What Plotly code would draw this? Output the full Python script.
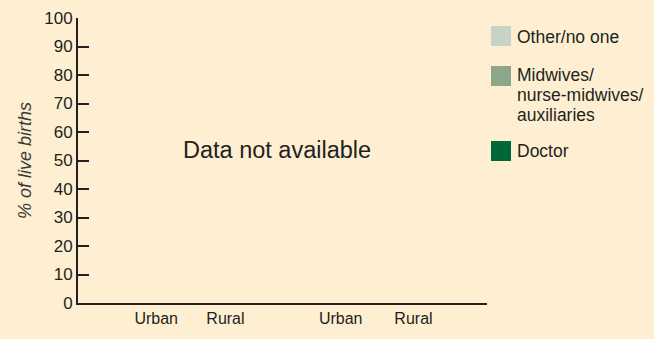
import plotly.graph_objects as go

# Stacked-bar layout: two groups of Urban / Rural bars, no values available
categories = ["Urban", "Rural", "Urban", "Rural"]
positions = [1.0, 1.98, 3.61, 4.64]
series_names = ["Doctor", "Midwives/nurse-midwives/auxiliaries", "Other/no one"]
series_colors = ["#00673A", "#8CA78C", "#C5D4C6"]
series_values = {
    "Doctor": [None, None, None, None],
    "Midwives/nurse-midwives/auxiliaries": [None, None, None, None],
    "Other/no one": [None, None, None, None],
}
y_ticks = [0, 10, 20, 30, 40, 50, 60, 70, 80, 90, 100]
message = "Data not available"

BG = "#FEEFD2"
INK = "#231F20"
FONT = "Liberation Sans, Arial, sans-serif"

W, H = 654, 339
ML, MR, MT, MB = 78, 167, 18, 36
PW, PH = W - ML - MR, H - MT - MB


def px(x):
    return (x - ML) / PW


def py(y):
    return 1 - (y - MT) / PH


fig = go.Figure()
for name, color in zip(series_names, series_colors):
    fig.add_trace(go.Bar(x=positions, y=series_values[name], name=name,
                         marker_color=color, showlegend=False))

# Legend: swatch + label lines, listed top to bottom (reverse of stacking order)
legend_rows = [
    (series_colors[2], 26, [("Other/no one", 37)]),
    (series_colors[1], 66, [("Midwives/", 75.5), ("nurse-midwives/", 95.5),
                            ("auxiliaries", 115.5)]),
    (series_colors[0], 141, [("Doctor", 151)]),
]
for color, top, lines in legend_rows:
    fig.add_shape(type="rect", xref="paper", yref="paper",
                  x0=px(491), x1=px(511), y0=py(top), y1=py(top + 20),
                  fillcolor=color, line_width=0)
    for text, yc in lines:
        fig.add_annotation(xref="paper", yref="paper", x=px(515), y=py(yc),
                           xanchor="left", yanchor="middle", text=text,
                           showarrow=False,
                           font=dict(family=FONT, size=17.5, color=INK))

fig.add_annotation(x=px(277), y=py(150), xref="paper", yref="paper",
                   text=message, showarrow=False,
                   font=dict(family=FONT, size=23.5, color=INK))

# Y-axis title placed by hand, rotated
fig.add_annotation(x=px(13), y=py(161), xref="paper", yref="paper",
                   text="<i>% of live births</i>", textangle=-90,
                   showarrow=False,
                   font=dict(family=FONT, size=18, color="#3A3A3A"))

fig.update_layout(
    width=W, height=H,
    margin=dict(l=ML, r=MR, t=MT, b=MB, autoexpand=False),
    paper_bgcolor=BG, plot_bgcolor=BG,
    barmode="stack",
    font=dict(family=FONT, color=INK),
    xaxis=dict(range=[-0.106, 5.68], tickvals=positions, ticktext=categories,
               showgrid=False, zeroline=False, showline=True, linecolor=INK,
               linewidth=2, ticks="", automargin=False,
               tickfont=dict(size=16, color=INK)),
    yaxis=dict(range=[0, 100], tickvals=y_ticks, showgrid=False, zeroline=False,
               showline=True, linecolor=INK, linewidth=2, ticks="inside",
               ticklen=11, tickwidth=2, tickcolor=INK, automargin=False,
               tickfont=dict(size=17, color=INK)),
)

fig.write_html("out.html")
